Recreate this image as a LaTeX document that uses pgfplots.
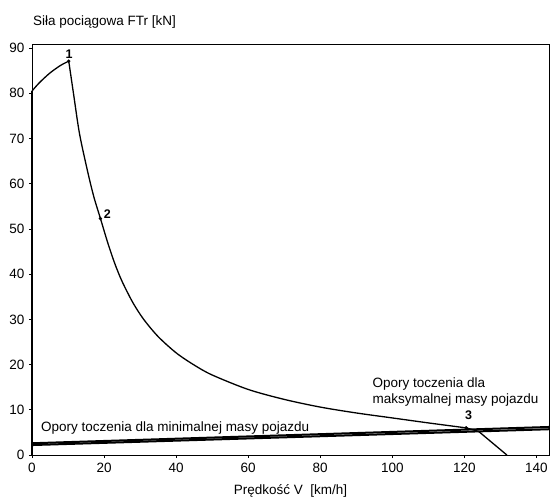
\documentclass[border=0pt]{standalone}
\usepackage{fontspec}
\setmainfont{Liberation Sans}
\usepackage{pgfplots}
\pgfplotsset{compat=1.18}
\begin{document}
\fontsize{13.5}{16}\selectfont
\begin{tikzpicture}
\begin{axis}[
 scale only axis, width=517pt, height=411pt,
 xmin=0, xmax=143.5, ymin=0, ymax=90.9,
 xtick={0,20,...,140}, ytick={0,10,...,90},
 tick align=outside, xtick pos=bottom, ytick pos=left,
 major tick length=3pt,
 axis line style={line width=0.9pt},
 tick style={black, line width=0.7pt},
 /pgf/number format/assume math mode=true,
 ticklabel style={font=\fontsize{13.5}{16}\selectfont},
 xlabel={Prędkość V\ \ [km/h]},
 xlabel style={at={(axis description cs:0.5,0)}, anchor=base, yshift=-39pt, inner sep=0pt},
 ylabel={Siła pociągowa FTr [kN]},
 ylabel style={rotate=-90, at={(axis description cs:0,1)}, anchor=base west, inner sep=0pt, yshift=18pt, xshift=1pt},
 clip=false,
]
\addplot[black, line width=2pt] coordinates {(0,2.2) (143.5,5.7)};
\addplot[black, line width=2pt] coordinates {(0,2.6) (143.5,6.2)};
\addplot[black, line width=1.4pt] coordinates {(0,0) (0,80.5)};
\addplot[black, line width=1.3pt, smooth] coordinates {(0,80.5) (2,82.3) (5,84.5) (8,86.2) (10.2,87.1)};
\addplot[black, line width=1.3pt, smooth] coordinates {(10.2,87.1)(11.6,79.5)(13.2,71)(15.5,62.5)(17.2,57)(19,52.3)(21,47.0)(23,42.3)(25,38.4)(28,33.7)(31,30.0)(35,26.2)(40,22.6)(45,19.9)(50,17.7)(60,14.5)(70,12.3)(80,10.6)(90,9.3)(100,8.2)(110,7.1)(120.5,6.0)};
\addplot[black, line width=1.3pt] coordinates {(120.5,6.0)(124,5.2)(131.8,0)};
\addplot[black, only marks, mark=*, mark size=1.5pt] coordinates {(10.2,87.1)(19,52.3)(120.5,6.0)};
\node[font=\fontsize{12.5}{14}\selectfont\bfseries] at (axis cs:10.3,88.7) {1};
\node[font=\fontsize{12.5}{14}\selectfont\bfseries] at (axis cs:20.9,53.3) {2};
\node[font=\fontsize{12.5}{14}\selectfont\bfseries] at (axis cs:121.2,8.7) {3};
\node[anchor=west, inner sep=0pt] at (axis cs:2.5,5.9) {Opory toczenia dla minimalnej masy pojazdu};
\node[anchor=west, inner sep=0pt, align=left] at (axis cs:94.5,13.9) {Opory toczenia dla\\maksymalnej masy pojazdu};
\end{axis}
\pgfresetboundingbox
\path[use as bounding box] (-32pt,-44pt) rectangle (519pt,455pt);
\end{tikzpicture}
\end{document}
